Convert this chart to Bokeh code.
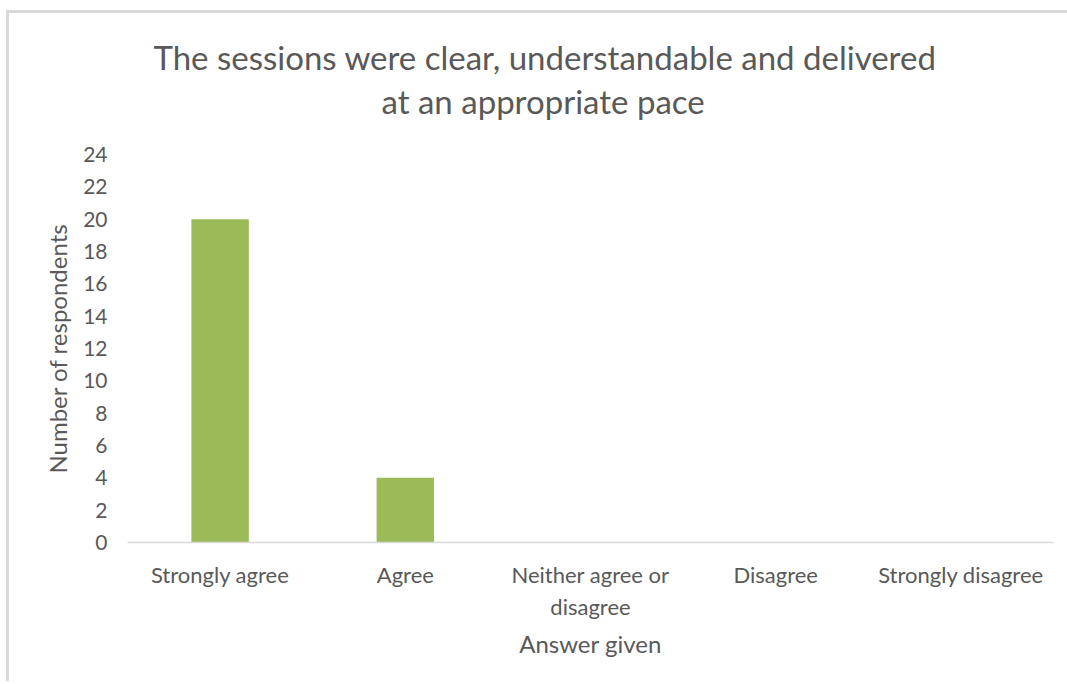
from bokeh.plotting import figure
from bokeh.models import ColumnDataSource, FixedTicker, Range1d, Title
from bokeh.embed import file_html
from bokeh.resources import INLINE

categories = ["Strongly agree", "Agree", "Neither agree or\ndisagree", "Disagree", "Strongly disagree"]
counts = [20, 4, 0, 0, 0]
y_ticks = [0, 2, 4, 6, 8, 10, 12, 14, 16, 18, 20, 22, 24]
title_line1 = "The sessions were clear, understandable and delivered"
title_line2 = "at an appropriate pace"

FONT = "Lato"
GREY = "#595959"

positions = [i + 0.5 for i in range(len(categories))]
src = ColumnDataSource(dict(x=positions, n=counts))

p = figure(x_range=Range1d(0, len(categories)), y_range=Range1d(0, 24), width=1064, height=671,
           output_backend="svg", toolbar_location=None,
           min_border_left=118, min_border_right=20, min_border_top=0, min_border_bottom=142,
           styles={"margin-left": "6px", "margin-top": "10px",
                   "border-left": "3px solid #D9D9D9", "border-top": "3px solid #D9D9D9"})
p.vbar(x="x", top="n", width=0.31, source=src, fill_color="#9BBB59", line_color=None)

# spacer between title and plot area, then the two title lines
gap = Title(text=" ", text_font=FONT, text_font_size="18px", standoff=8)
t2 = Title(text=title_line2, align="left", text_font=FONT, text_font_size="33px",
           text_font_style="normal", text_color=GREY, offset=254, standoff=4)
t1 = Title(text=title_line1, align="left", text_font=FONT, text_font_size="33px",
           text_font_style="normal", text_color=GREY, offset=26, standoff=0)
p.add_layout(gap, "above")
p.add_layout(t2, "above")
p.add_layout(t1, "above")
p.title.text = " "
p.title.text_font = FONT
p.title.text_font_size = "16px"
p.title.standoff = 0

p.outline_line_color = None
p.grid.visible = False
p.background_fill_color = "white"
p.border_fill_color = "white"

p.yaxis.ticker = FixedTicker(ticks=y_ticks)
p.yaxis.axis_line_color = None
p.yaxis.major_tick_line_color = None
p.yaxis.minor_tick_line_color = None
p.yaxis.major_label_text_font = FONT
p.yaxis.major_label_text_font_size = "21px"
p.yaxis.major_label_text_color = GREY
p.yaxis.major_label_standoff = 14
p.yaxis.axis_label = "Number of respondents"
p.yaxis.axis_label_text_font = FONT
p.yaxis.axis_label_text_font_size = "24px"
p.yaxis.axis_label_text_font_style = "normal"
p.yaxis.axis_label_text_color = GREY
p.yaxis.axis_label_standoff = 8

p.xaxis.ticker = FixedTicker(ticks=positions)
p.xaxis.major_label_overrides = {pos: cat for pos, cat in zip(positions, categories)}
p.xaxis.axis_line_color = "#D9D9D9"
p.xaxis.axis_line_width = 1.5
p.xaxis.major_tick_line_color = None
p.xaxis.minor_tick_line_color = None
p.xaxis.major_label_text_font = FONT
p.xaxis.major_label_text_font_size = "22px"
p.xaxis.major_label_text_color = GREY
p.xaxis.major_label_standoff = 12
p.xaxis.axis_label = "Answer given"
p.xaxis.axis_label_text_font = FONT
p.xaxis.axis_label_text_font_size = "24px"
p.xaxis.axis_label_text_font_style = "normal"
p.xaxis.axis_label_text_color = GREY
p.xaxis.axis_label_standoff = 6

open("out.html", "w").write(file_html(p, INLINE))
